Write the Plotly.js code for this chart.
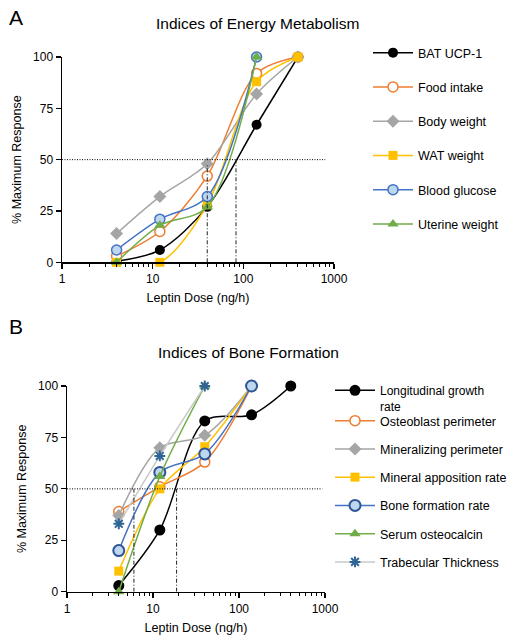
<!DOCTYPE html>
<html>
<head>
<meta charset="utf-8">
<script src="https://cdn.plot.ly/plotly-3.0.1.min.js"></script>
<style>html,body{margin:0;padding:0;background:#fff}#chart{width:515px;height:643px}</style>
</head>
<body>
<div id="chart"></div>
<script>
// ---------- DATA ----------
const doseA = [4, 12, 40, 140, 400];
const doseA4 = [4, 12, 40, 140];
const batUCP1 = [0.5, 6, 27, 67, 100];
const foodIntake = [3, 15, 42, 92, 100];
const bodyWeight = [14, 32, 48, 82, 100];
const watWeight = [0, 0, 28, 88, 100];
const bloodGlucose = [6, 21, 32, 100];
const uterineWeight = [0, 18, 27, 100];

const doseB = [4, 12, 40, 140, 400];
const doseB4 = [4, 12, 40, 140];
const doseB3 = [4, 12, 40];
const longGrowth = [3, 30, 83, 86, 100];
const osteoblastPerim = [39, 51, 63, 100];
const mineralizingPerim = [37, 70, 76, 100];
const mineralApposition = [10, 50, 70.5, 100];
const boneFormation = [20, 58, 67, 100];
const serumOsteocalcin = [0, 56, 100];
const trabecularThick = [33, 66, 100];

// reference lines: half-maximal response and ED50 markers
const halfMax = 50;
const ed50A = [{x: 40, y: 48}, {x: 83, y: 50}];
const ed50B = [{x: 6, y: 50}, {x: 18.8, y: 50}];
const tickVals = [1, 10, 100, 1000];
const tickText = ['1', '10', '100', '1000'];
const yTicks = [0, 25, 50, 75, 100];

// ---------- STYLE ----------
const C = {black:'#000000', orange:'#ED7D31', gray:'#A5A5A5', yellow:'#FFC000',
           blue:'#4472C4', green:'#70AD47', lightblue:'#BDD7EE', darkblue:'#2F5597',
           lightgray:'#C9C9C9', starblue:'#2E6496'};
const FONT = 'Liberation Sans, Arial, sans-serif';
const FS = 12.5;

function tr(name, x, y, color, marker, axes, legend, grp) {
  return {
    type:'scatter', mode:'lines+markers', name, x, y,
    xaxis: axes[0], yaxis: axes[1], legend, legendgroup: grp,
    line:{color, width:1.5, shape:'spline', smoothing:0.9},
    marker: marker, cliponaxis:false
  };
}
const AX = ['x','y'], BX = ['x2','y2'];
const traces = [
  tr('BAT UCP-1', doseA, batUCP1, C.black, {symbol:'circle', size:10, color:C.black}, AX, 'legend', 'a1'),
  tr('Food intake', doseA, foodIntake, C.orange, {symbol:'circle', size:10, color:'#ffffff', line:{color:C.orange, width:1.5}}, AX, 'legend', 'a2'),
  tr('Body weight', doseA, bodyWeight, C.gray, {symbol:'diamond', size:10, color:C.gray}, AX, 'legend', 'a3'),
  tr('WAT weight', doseA, watWeight, C.yellow, {symbol:'square', size:9, color:C.yellow}, AX, 'legend', 'a4'),
  tr('Blood glucose', doseA4, bloodGlucose, C.blue, {symbol:'circle', size:10, color:C.lightblue, line:{color:C.blue, width:1.5}}, AX, 'legend', 'a5'),
  tr('Uterine weight', doseA4, uterineWeight, C.green, {symbol:'triangle-up', size:10, color:C.green}, AX, 'legend', 'a6'),

  tr('Longitudinal growth<br>rate', doseB, longGrowth, C.black, {symbol:'circle', size:11, color:C.black}, BX, 'legend2', 'b1'),
  tr('Osteoblast perimeter', doseB4, osteoblastPerim, C.orange, {symbol:'circle', size:10, color:'#ffffff', line:{color:C.orange, width:1.5}}, BX, 'legend3', 'b2'),
  tr('Mineralizing perimeter', doseB4, mineralizingPerim, C.gray, {symbol:'diamond', size:10, color:C.gray}, BX, 'legend3', 'b3'),
  tr('Mineral apposition rate', doseB4, mineralApposition, C.yellow, {symbol:'square', size:9, color:C.yellow}, BX, 'legend3', 'b4'),
  tr('Bone formation rate', doseB4, boneFormation, C.blue, {symbol:'circle', size:11, color:C.lightblue, line:{color:C.darkblue, width:2}}, BX, 'legend3', 'b5'),
  tr('Serum osteocalcin', doseB3, serumOsteocalcin, C.green, {symbol:'triangle-up', size:10, color:C.green}, BX, 'legend3', 'b6'),
  tr('Trabecular Thickness', doseB3, trabecularThick, C.lightgray, {symbol:'asterisk-open', size:9, color:C.starblue, line:{color:C.starblue, width:2}}, BX, 'legend3', 'b7')
];

function xAxis(domain, anchor) {
  return {type:'log', domain, anchor, range:[0,3], tickvals:tickVals, ticktext:tickText,
    ticks:'outside', ticklen:5, tickwidth:1.2, tickcolor:'#000',
    minor:{ticks:'outside', ticklen:3, tickwidth:1, tickcolor:'#000', dtick:'D1', showgrid:false},
    showline:true, linecolor:'#000', linewidth:1.5, showgrid:false, zeroline:false,
    tickfont:{size:12, color:'#000'}, automargin:false,
    title:{text:'Leptin Dose (ng/h)', font:{size:FS, color:'#000'}, standoff:8}};
}
function yAxis(domain, anchor) {
  return {domain, anchor, range:[0,100], tickvals:yTicks,
    ticks:'outside', ticklen:5, tickwidth:1.2, tickcolor:'#000',
    showline:true, linecolor:'#000', linewidth:1.5, showgrid:false, zeroline:false,
    tickfont:{size:12, color:'#000'}, automargin:false,
    title:{text:'% Maximum Response', font:{size:FS, color:'#000'}, standoff:8}};
}

const shapes = [];
function refShapes(xr, yr, ed, xEnd) {
  shapes.push({type:'line', xref:xr, yref:yr, x0:1, x1:xEnd, y0:halfMax, y1:halfMax,
    line:{color:'#000', width:1, dash:'1px,1.5px'}});
  ed.forEach(p => shapes.push({type:'line', xref:xr, yref:yr, x0:p.x, x1:p.x, y0:0, y1:p.y,
    line:{color:'#222', width:1, dash:'4px,2px,1px,2px'}}));
}
refShapes('x', 'y', ed50A, 800);
refShapes('x2', 'y2', ed50B, 930);

const legBase = {xanchor:'left', yanchor:'top', itemwidth:40, font:{size:FS, color:'#000'},
  bgcolor:'rgba(0,0,0,0)', traceorder:'grouped'};

const layout = {
  width:515, height:643, margin:{l:0, r:0, t:0, b:0},
  paper_bgcolor:'#fff', plot_bgcolor:'#fff',
  font:{family:FONT, color:'#000', size:FS},
  showlegend:true,
  xaxis: xAxis([62/515, 334/515], 'y'),
  yaxis: yAxis([1-262.3/643, 1-57/643], 'x'),
  xaxis2: xAxis([67/515, 325/515], 'y2'),
  yaxis2: yAxis([1-591.7/643, 1-386/643], 'x2'),
  legend: Object.assign({}, legBase, {x:368/515, y:1-38/643, tracegroupgap:15}),
  legend2: Object.assign({}, legBase, {x:330/515, y:1-376/643, valign:'top', font:{size:12, color:'#000'}}),
  legend3: Object.assign({}, legBase, {x:330/515, y:1-406/643, tracegroupgap:9}),
  shapes,
  annotations:[
    {text:'A', xref:'paper', yref:'paper', x:7/515, y:1-17.5/643, xanchor:'left', yanchor:'middle', showarrow:false, font:{size:21}},
    {text:'B', xref:'paper', yref:'paper', x:7/515, y:1-326/643, xanchor:'left', yanchor:'middle', showarrow:false, font:{size:21}},
    {text:'Indices of Energy Metabolism', xref:'paper', yref:'paper', x:257.5/515, y:1-23/643, xanchor:'center', yanchor:'middle', showarrow:false, font:{size:15.5}},
    {text:'Indices of Bone Formation', xref:'paper', yref:'paper', x:248/515, y:1-352/643, xanchor:'center', yanchor:'middle', showarrow:false, font:{size:15.5}}
  ]
};

Plotly.newPlot('chart', traces, layout, {displayModeBar:false, staticPlot:true});
</script>
</body>
</html>
